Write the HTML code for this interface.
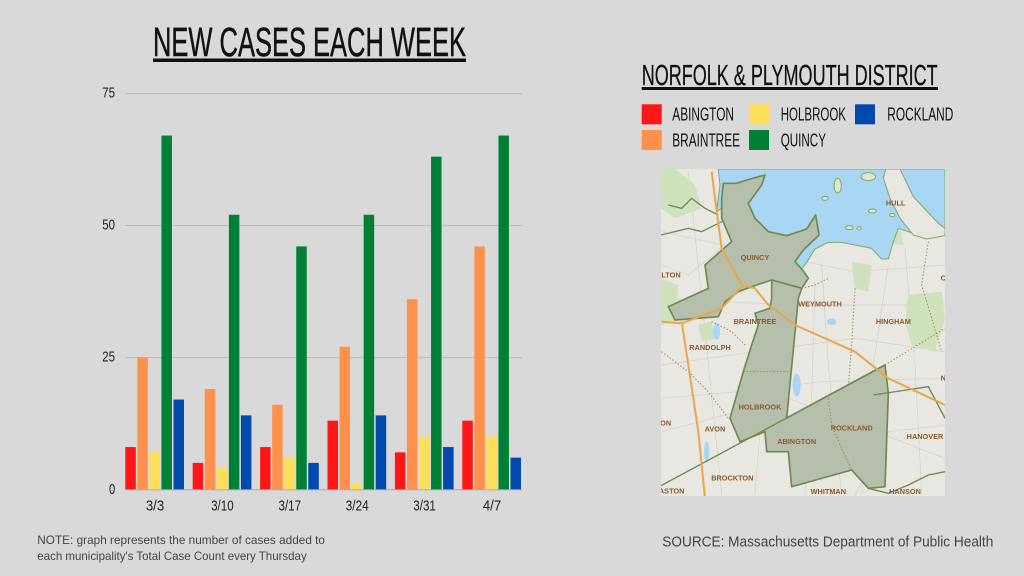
<!DOCTYPE html>
<html>
<head>
<meta charset="utf-8">
<style>
  html,body{margin:0;padding:0;background:#d9d9d9;}
  svg{display:block;}
  .cond{font-family:"Liberation Sans","DejaVu Sans",sans-serif;}
  .lbl{font-family:"Liberation Sans",sans-serif;font-weight:bold;fill:#8b5a2b;font-size:22px;}
</style>
</head>
<body>
<svg width="1024" height="576" viewBox="0 0 1024 576" xmlns="http://www.w3.org/2000/svg">
  <rect x="0" y="0" width="1024" height="576" fill="#d9d9d9"/>

  <!-- Title -->
  <text class="cond" x="153" y="56" font-size="41" fill="#111" stroke="#111" stroke-width="0.5" textLength="313" lengthAdjust="spacingAndGlyphs">NEW CASES EACH WEEK</text>
  <rect x="153" y="58.5" width="313" height="3.5" fill="#111"/>

  <!-- gridlines -->
  <g stroke="#bdbdbd" stroke-width="1">
    <line x1="125" y1="93.5" x2="522" y2="93.5"/>
    <line x1="125" y1="225.5" x2="522" y2="225.5"/>
    <line x1="125" y1="357.5" x2="522" y2="357.5"/>
  </g>
  <line x1="125" y1="489.8" x2="522" y2="489.8" stroke="#a8a8a8" stroke-width="1"/>

  <!-- y labels -->
  <g class="cond" font-size="15" fill="#222">
    <text x="102.3" y="97.3" textLength="12.7" lengthAdjust="spacingAndGlyphs">75</text>
    <text x="102.3" y="229.3" textLength="12.7" lengthAdjust="spacingAndGlyphs">50</text>
    <text x="102.3" y="361.3" textLength="12.7" lengthAdjust="spacingAndGlyphs">25</text>
    <text x="109" y="493.8" textLength="6.2" lengthAdjust="spacingAndGlyphs">0</text>
  </g>

  <!-- bars -->
  <g>
    <rect x="125.3" y="447.06" width="10.5" height="42.24" fill="#ff1616"/>
    <rect x="137.35" y="357.3" width="10.5" height="132" fill="#ff914d"/>
    <rect x="149.4" y="452.34" width="10.5" height="36.96" fill="#ffde59"/>
    <rect x="161.45" y="135.54" width="10.5" height="353.76" fill="#008037"/>
    <rect x="173.5" y="399.54" width="10.5" height="89.76" fill="#004aad"/>

    <rect x="192.7" y="462.9" width="10.5" height="26.4" fill="#ff1616"/>
    <rect x="204.75" y="388.98" width="10.5" height="100.32" fill="#ff914d"/>
    <rect x="216.8" y="468.18" width="10.5" height="21.12" fill="#ffde59"/>
    <rect x="228.85" y="214.74" width="10.5" height="274.56" fill="#008037"/>
    <rect x="240.9" y="415.38" width="10.5" height="73.92" fill="#004aad"/>

    <rect x="260.1" y="447.06" width="10.5" height="42.24" fill="#ff1616"/>
    <rect x="272.15" y="404.82" width="10.5" height="84.48" fill="#ff914d"/>
    <rect x="284.2" y="457.62" width="10.5" height="31.68" fill="#ffde59"/>
    <rect x="296.25" y="246.42" width="10.5" height="242.88" fill="#008037"/>
    <rect x="308.3" y="462.9" width="10.5" height="26.4" fill="#004aad"/>

    <rect x="327.5" y="420.66" width="10.5" height="68.64" fill="#ff1616"/>
    <rect x="339.55" y="346.74" width="10.5" height="142.56" fill="#ff914d"/>
    <rect x="351.6" y="484.02" width="10.5" height="5.28" fill="#ffde59"/>
    <rect x="363.65" y="214.74" width="10.5" height="274.56" fill="#008037"/>
    <rect x="375.7" y="415.38" width="10.5" height="73.92" fill="#004aad"/>

    <rect x="394.9" y="452.34" width="10.5" height="36.96" fill="#ff1616"/>
    <rect x="406.95" y="299.22" width="10.5" height="190.08" fill="#ff914d"/>
    <rect x="419.0" y="436.5" width="10.5" height="52.8" fill="#ffde59"/>
    <rect x="431.05" y="156.66" width="10.5" height="332.64" fill="#008037"/>
    <rect x="443.1" y="447.06" width="10.5" height="42.24" fill="#004aad"/>

    <rect x="462.3" y="420.66" width="10.5" height="68.64" fill="#ff1616"/>
    <rect x="474.35" y="246.42" width="10.5" height="242.88" fill="#ff914d"/>
    <rect x="486.4" y="436.5" width="10.5" height="52.8" fill="#ffde59"/>
    <rect x="498.45" y="135.54" width="10.5" height="353.76" fill="#008037"/>
    <rect x="510.5" y="457.62" width="10.5" height="31.68" fill="#004aad"/>
  </g>

  <!-- x labels -->
  <g class="cond" font-size="14.5" fill="#222" text-anchor="middle">
    <text x="155" y="510.3" textLength="18.3" lengthAdjust="spacingAndGlyphs">3/3</text>
    <text x="222.4" y="510.3" textLength="22.6" lengthAdjust="spacingAndGlyphs">3/10</text>
    <text x="289.8" y="510.3" textLength="22.6" lengthAdjust="spacingAndGlyphs">3/17</text>
    <text x="357.2" y="510.3" textLength="23.2" lengthAdjust="spacingAndGlyphs">3/24</text>
    <text x="424.6" y="510.3" textLength="22.6" lengthAdjust="spacingAndGlyphs">3/31</text>
    <text x="492" y="510.3" textLength="18.3" lengthAdjust="spacingAndGlyphs">4/7</text>
  </g>

  <!-- Note -->
  <g class="cond" font-size="11.8" fill="#444">
    <text x="37.3" y="544" textLength="287.7" lengthAdjust="spacingAndGlyphs">NOTE: graph represents the number of cases added to</text>
    <text x="37.3" y="560" textLength="269.4" lengthAdjust="spacingAndGlyphs">each municipality's Total Case Count every Thursday</text>
  </g>

  <!-- Source -->
  <text class="cond" x="662.3" y="546.7" font-size="14.5" fill="#444" textLength="331" lengthAdjust="spacingAndGlyphs">SOURCE: Massachusetts Department of Public Health</text>

  <!-- Legend title -->
  <text class="cond" x="641.7" y="85" font-size="29" fill="#111" stroke="#111" stroke-width="0.3" textLength="296" lengthAdjust="spacingAndGlyphs">NORFOLK &amp; PLYMOUTH DISTRICT</text>
  <rect x="641.7" y="87" width="296.3" height="3" fill="#111"/>

  <!-- Legend items -->
  <rect x="641.7" y="104.3" width="20" height="20" fill="#ff1616"/>
  <rect x="749" y="104.3" width="20" height="20" fill="#ffde59"/>
  <rect x="855" y="104.3" width="20" height="20" fill="#004aad"/>
  <rect x="641.7" y="130" width="20" height="20" fill="#ff914d"/>
  <rect x="749" y="130" width="20" height="20" fill="#008037"/>
  <g class="cond" font-size="18.5" fill="#111">
    <text x="672.3" y="120.7" textLength="61.7" lengthAdjust="spacingAndGlyphs">ABINGTON</text>
    <text x="780.7" y="120.7" textLength="65.3" lengthAdjust="spacingAndGlyphs">HOLBROOK</text>
    <text x="887.3" y="120.7" textLength="66" lengthAdjust="spacingAndGlyphs">ROCKLAND</text>
    <text x="672.3" y="146.6" textLength="67.7" lengthAdjust="spacingAndGlyphs">BRAINTREE</text>
    <text x="780.7" y="146.6" textLength="45.3" lengthAdjust="spacingAndGlyphs">QUINCY</text>
  </g>

  <!-- Map -->
  <svg x="655" y="165" width="295" height="335" viewBox="0 0 885 1005">
    <defs>
      <clipPath id="mc"><rect x="18" y="12" width="852" height="981"/></clipPath>
    </defs>
    <g clip-path="url(#mc)">
      <rect x="0" y="0" width="885" height="1005" fill="#e8e7e1"/>
      <!-- road texture -->
      <g stroke="#d0cfc9" stroke-width="2" fill="none">
        <path d="M20,200 L300,260 L600,320 L870,300"/>
        <path d="M20,600 L300,560 L600,520 L870,560"/>
        <path d="M100,20 L140,400 L200,990"/>
        <path d="M500,300 L520,600 L560,990"/>
        <path d="M750,250 L780,600 L800,990"/>
        <path d="M20,800 L400,700 L870,880"/>
        <path d="M20,400 L400,420 L870,420"/>
        <path d="M300,990 L330,600 L360,300"/>
        <path d="M620,990 L640,700 L700,300"/>
        <path d="M20,700 L250,680 L500,650 L870,640"/>
        <path d="M450,990 L470,700 L480,350"/>
        <path d="M20,300 L100,330 L200,250"/>
        <path d="M600,990 L700,800 L870,780"/>
      </g>
      <!-- parks -->
      <g fill="#cfe2bd">
        <polygon points="18,12 60,12 120,60 140,130 60,160 18,130"/>
        <polygon points="18,340 70,360 60,470 18,480"/>
        <polygon points="760,390 860,380 870,460 840,560 770,540 750,470"/>
        <polygon points="340,800 390,790 400,840 345,850"/>
        <polygon points="590,290 650,300 640,380 600,370"/>
        <polygon points="130,480 170,470 180,520 140,530"/>
        <polygon points="700,190 740,200 745,240 705,235"/>
      </g>
      <!-- small lakes -->
      <g fill="#a9d6f3">
        <ellipse cx="425" cy="660" rx="12" ry="35"/>
        <ellipse cx="185" cy="500" rx="10" ry="25"/>
        <ellipse cx="155" cy="860" rx="8" ry="30"/>
        <ellipse cx="530" cy="470" rx="14" ry="10"/>
      </g>

      <!-- Water -->
      <polygon fill="#a9d6f3" stroke="#86a666" stroke-width="3" stroke-linejoin="round"
        points="190,12 870,12 870,200 800,215 760,200 730,190 715,230 700,282 680,282 650,250 600,240 560,232 520,232 480,252 455,292 440,312 420,292 400,262 300,200 250,120 210,70 200,130 185,140 195,60"/>
      <!-- Hull strip -->
      <polygon fill="#e8e7e1" stroke="#86a666" stroke-width="3"
        points="692,12 735,12 775,95 850,175 870,190 870,212 815,222 775,210 735,160 705,100 685,40"/>

      <!-- Shaded district -->
      <g fill="#b6bfac" stroke="#6f8a4f" stroke-width="5" stroke-linejoin="round">
        <polygon points="205,55 245,55 275,45 300,38 330,30 320,60 280,115 300,160 340,200 395,212 455,192 482,150 492,210 445,255 420,290 445,318 460,340 440,370 350,345 290,365 250,380 210,410 190,455 60,465 40,425 160,370 150,300 230,230 200,160 200,100"/>
        <polygon points="350,345 440,370 430,400 395,759 690,600 700,685 690,965 640,970 590,915 410,965 400,860 335,860 330,800 255,830 225,760 265,620 290,540 310,480 300,445 345,430 350,400"/>
      </g>

      <!-- islands -->
      <g fill="#dfe6d2" stroke="#86a666" stroke-width="3">
        <ellipse cx="548" cy="62" rx="11" ry="22"/>
        <ellipse cx="652" cy="138" rx="12" ry="6"/>
        <ellipse cx="583" cy="188" rx="12" ry="6"/>
        <ellipse cx="612" cy="190" rx="6" ry="5"/>
        <ellipse cx="712" cy="150" rx="8" ry="5"/>
        <ellipse cx="510" cy="100" rx="10" ry="6"/>
        <ellipse cx="640" cy="35" rx="22" ry="12"/>
      </g>

      <!-- boundary lines -->
      <g stroke="#6f8a4f" stroke-width="4" fill="none">
        <line x1="18" y1="962" x2="690" y2="600"/>
        <polyline points="655,690 820,665 870,760"/>
        <polyline points="640,970 700,985 760,960 820,930 870,920"/>
        <polyline points="18,210 100,190 140,200 200,170"/>
        <polyline points="40,120 80,130 110,100 150,130 190,150"/>
      </g>
      <g stroke="#a07e55" stroke-width="3" fill="none" stroke-dasharray="4,6">
        <polyline points="520,700 530,780 560,850 590,915"/>
        <line x1="265" y1="620" x2="400" y2="620"/>
        <line x1="690" y1="600" x2="870" y2="490"/>
        <polyline points="600,370 590,540 580,660"/>
        <polyline points="820,230 800,360 860,560"/>
        <polyline points="20,560 100,620 160,680 220,760"/>
        <polyline points="170,470 230,500 270,540"/>
        <polyline points="440,370 480,360 520,340"/>
      </g>

      <!-- orange roads -->
      <g stroke="#e8a84a" stroke-width="6" fill="none" stroke-linejoin="round">
        <polyline points="170,20 180,100 200,250 260,360 300,370 340,420 420,480 600,560 700,640 870,720"/>
        <polyline points="80,470 100,600 130,800 150,1000"/>
        <polyline points="20,470 80,475 200,430 260,365"/>
      </g>

      <!-- town labels -->
      <g class="lbl" text-anchor="middle">
        <text x="300" y="285">QUINCY</text>
        <text x="495" y="425">WEYMOUTH</text>
        <text x="715" y="477">HINGHAM</text>
        <text x="300" y="477">BRAINTREE</text>
        <text x="165" y="555">RANDOLPH</text>
        <text x="315" y="734">HOLBROOK</text>
        <text x="180" y="800">AVON</text>
        <text x="425" y="837">ABINGTON</text>
        <text x="590" y="797">ROCKLAND</text>
        <text x="810" y="822">HANOVER</text>
        <text x="232" y="947">BROCKTON</text>
        <text x="520" y="987">WHITMAN</text>
        <text x="750" y="987">HANSON</text>
        <text x="722" y="122">HULL</text>
        <text x="45" y="337">ILTON</text>
        <text x="32" y="782">ON</text>
        <text x="50" y="985">ASTON</text>
        <text x="865" y="347">C</text>
        <text x="865" y="647">N</text>
      </g>
    </g>
  </svg>
</svg>
</body>
</html>
